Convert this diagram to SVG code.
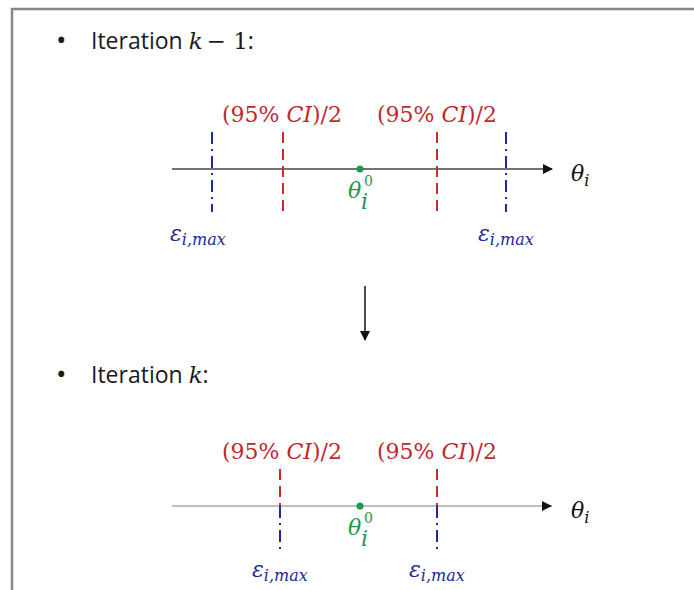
<svg xmlns="http://www.w3.org/2000/svg" width="694" height="590" viewBox="0 0 694 590">
<defs>
<style>
.frame{fill:none;stroke:#888;stroke-width:2.5}
.head{font-family:"Open Sans","Noto Sans",sans-serif;font-size:23px;fill:#1a1a1a}
.bul{font-family:"Open Sans","Noto Sans",sans-serif;font-size:28px;fill:#1a1a1a}
.m{font-family:"DejaVu Serif","Liberation Serif",serif}
.it{font-style:italic}
.ci{font-family:"DejaVu Serif","Liberation Serif",serif;font-size:22px;fill:#c0282d}
.eps{font-family:"DejaVu Serif","Liberation Serif",serif;font-style:italic;font-size:22px;fill:#1f2a9a}
.sub{font-size:16px}
.th0{font-family:"DejaVu Serif","Liberation Serif",serif;font-style:italic;font-size:22px;fill:#1a9a4a}
.s0{font-family:"DejaVu Serif","Liberation Serif",serif;font-size:14px;fill:#1a9a4a}
.th{font-family:"DejaVu Serif","Liberation Serif",serif;font-style:italic;font-size:22px;fill:#111}
.red{stroke:#d0282d;stroke-width:2;stroke-dasharray:11 6}
.blue{stroke:#1f2aa0;stroke-width:2;stroke-dasharray:12 5 2 5}
</style>
<marker id="ah" viewBox="0 0 10 10" refX="9" refY="5" markerWidth="10" markerHeight="10" markerUnits="userSpaceOnUse" orient="auto">
<path d="M0,0 L10,5 L0,10 z" fill="#111"/>
</marker>
</defs>
<rect width="694" height="590" fill="#fff"/>
<path class="frame" d="M12,600 V9 H700"/>

<g id="heading1">
<text class="bul" x="56" y="50">•</text>
<text class="head" x="91" y="49">Iteration <tspan class="m it">k</tspan><tspan class="m" dx="4">− 1</tspan>:</text>
</g>

<g id="axis1">
<line x1="172" y1="169" x2="552" y2="169" stroke="#444" stroke-width="1.5" marker-end="url(#ah)"/>
<text class="th" x="571" y="181">θ<tspan class="sub" dy="5">i</tspan></text>
</g>
<g id="eps1-left">
<line class="blue" x1="212" y1="132" x2="212" y2="212"/>
<text class="eps" x="170" y="241">ε<tspan class="sub" dy="4">i,max</tspan></text>
</g>
<g id="ci1-left">
<line class="red" x1="283" y1="132" x2="283" y2="212"/>
<text class="ci" x="222" y="122">(95% <tspan class="it">CI</tspan>)/2</text>
</g>
<g id="theta1">
<circle cx="360" cy="169" r="3.5" fill="#1a9a4a"/>
<text class="th0" x="348" y="198">θ</text>
<text class="th0 sub" x="361" y="209">i</text>
<text class="s0" x="364" y="186">0</text>
</g>
<g id="ci1-right">
<line class="red" x1="437" y1="132" x2="437" y2="212"/>
<text class="ci" x="377" y="122">(95% <tspan class="it">CI</tspan>)/2</text>
</g>
<g id="eps1-right">
<line class="blue" x1="506" y1="132" x2="506" y2="212"/>
<text class="eps" x="478" y="241">ε<tspan class="sub" dy="4">i,max</tspan></text>
</g>

<g id="connectors">
<line x1="365" y1="286" x2="365" y2="340" stroke="#111" stroke-width="1.5" marker-end="url(#ah)"/>
</g>

<g id="heading2">
<text class="bul" x="56" y="384">•</text>
<text class="head" x="91" y="383">Iteration <tspan class="m it">k</tspan>:</text>
</g>

<g id="axis2">
<line x1="172" y1="506" x2="552" y2="506" stroke="#aaa" stroke-width="1.5"/>
<path d="M542,501 L552,506 L542,511 z" fill="#111"/>
<text class="th" x="571" y="518">θ<tspan class="sub" dy="5">i</tspan></text>
</g>
<g id="ci2-left">
<line class="red" x1="280" y1="469" x2="280" y2="506"/>
<line class="blue" x1="280" y1="506" x2="280" y2="550" stroke-dasharray="0 3 2 5 12 50"/>
<text class="ci" x="222" y="459">(95% <tspan class="it">CI</tspan>)/2</text>
<text class="eps" x="252" y="577">ε<tspan class="sub" dy="4">i,max</tspan></text>
</g>
<g id="theta2">
<circle cx="360" cy="506" r="3.5" fill="#1a9a4a"/>
<text class="th0" x="348" y="535">θ</text>
<text class="th0 sub" x="361" y="546">i</text>
<text class="s0" x="364" y="523">0</text>
</g>
<g id="ci2-right">
<line class="red" x1="437" y1="469" x2="437" y2="506"/>
<line class="blue" x1="437" y1="506" x2="437" y2="550" stroke-dasharray="0 3 2 5 12 50"/>
<text class="ci" x="377" y="459">(95% <tspan class="it">CI</tspan>)/2</text>
<text class="eps" x="409" y="577">ε<tspan class="sub" dy="4">i,max</tspan></text>
</g>
</svg>
